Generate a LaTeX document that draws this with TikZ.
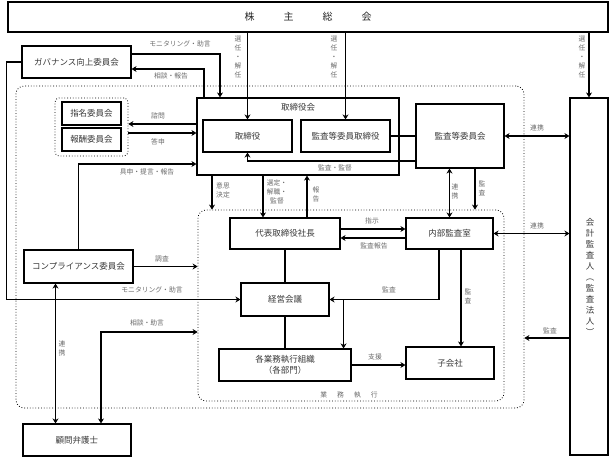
\documentclass[tikz,border=0pt]{standalone}
\usepackage{fontspec}
\setmainfont{Noto Sans CJK JP}
\usetikzlibrary{positioning}
\usetikzlibrary{arrows.meta}
\definecolor{lblgray}{gray}{0.42}
\definecolor{txtgray}{gray}{0.22}
\tikzset{box/.style={ % solid boxes
			draw,
			line width=1.1pt,
			inner sep=0pt,
			text=txtgray,
			font=\fontsize{8.5}{11}\selectfont},
		grp/.style={ % dotted groups
			draw,
			dotted,
			line width=0.8pt,
			rounded corners=8pt,
			inner sep=0pt},
		lab/.style={ % small grey labels
			text=lblgray,
			inner sep=0pt,
			align=center,
			font=\fontsize{6.8}{9}\selectfont},
		conn/.style={line width=1.4pt}}

\begin{document}
\begin{tikzpicture}[x=1pt, y=-1pt, >={Stealth[length=5pt,width=6pt]}]
			\useasboundingbox (0,0) rectangle (614,457);
			
			\node[grp, minimum width=508, minimum height=322] (outer) at (270,247) {};
			\node[grp, minimum width=306, minimum height=191] (exec) at (351,305.5) {};
			\node[grp, minimum width=73, minimum height=58, rounded corners=4pt] (cmt) at (91.5,127) {};
			
			\node[box, minimum width=600, minimum height=30, font=\fontsize{10}{12}\selectfont, text=black!85] (sh) at (308,17) {株\hspace{29pt}主\hspace{29pt}総\hspace{29pt}会};
			\node[box, minimum width=109, minimum height=32] (gov) at (76.5,62) {ガバナンス向上委員会};
			\node[box, minimum width=59, minimum height=23] (nom) at (91.5,113.5) {指名委員会};
			\node[box, minimum width=59, minimum height=23] (rem) at (91.5,139.5) {報酬委員会};
			\node[box, minimum width=202, minimum height=77] (bod) at (298,136.5) {};
			\node[text=txtgray, font=\fontsize{8.5}{11}\selectfont] (bodt) at (298,107) {取締役会};
			\node[box, minimum width=89, minimum height=32] (dir) at (247.5,136) {取締役};
			\node[box, minimum width=89, minimum height=32] (acd) at (345.5,136) {監査等委員取締役};
			\node[box, minimum width=88, minimum height=64] (ac) at (460,136) {監査等委員会};
			\node[box, minimum width=38, minimum height=357, align=center] (auditor) at (589,276.5) {};
			\node[text=txtgray, align=center, font=\fontsize{8.5}{11}\selectfont] (audt) at (590,277) {会\\計\\監\\査\\人\\︵\\監\\査\\法\\人\\︶};
			\node[box, minimum width=110, minimum height=31] (pres) at (285,233.5) {代表取締役社長};
			\node[box, minimum width=87, minimum height=31] (ia) at (449.5,233.5) {内部監査室};
			\node[box, minimum width=88, minimum height=33] (mgmt) at (285,299.5) {経営会議};
			\node[box, minimum width=132, minimum height=32, align=center] (ops) at (285,365) {各業務執行組織\\（各部門）};
			\node[box, minimum width=88, minimum height=32] (sub) at (450,363) {子会社};
			\node[box, minimum width=109, minimum height=33] (comp) at (78.5,266.5) {コンプライアンス委員会};
			\node[box, minimum width=108, minimum height=32] (law) at (77,440) {顧問弁護士};
			
			\coordinate (q1) at ([yshift=12.5pt]bod.west);
			\coordinate (q2) at ([yshift=3.5pt]bod.west);
			\coordinate (q3) at ([yshift=-25pt]ac.west);
			\coordinate (q4) at ([xshift=-86pt]bod.south);
			\coordinate (q5) at ([xshift=-35pt]bod.south);
			\coordinate (q6) at ([xshift=22pt]pres.north);
			\coordinate (q7) at ([xshift=15pt]ac.south);
			\coordinate (q8) at ([yshift=4.5pt]pres.east);
			\coordinate (q9) at ([yshift=-4.5pt]ia.west);
			\coordinate (q10) at ([xshift=14pt]mgmt.east);
			\coordinate (q11) at ([xshift=11.5pt]ia.south);
			\coordinate (q12) at ([xshift=-23pt]comp.south);
			\coordinate (q13) at ([yshift=-26.5pt]exec.west);
			\coordinate (q14) at ([yshift=-61.5pt]auditor.west);
			
			\draw[->, conn] (sh.south -| dir) -- (dir);
			\draw[->, conn] (sh.south -| acd) -- (acd);
			\draw[->, conn] (sh.south -| auditor) -- (auditor);
			\draw[->, conn] ([yshift=8pt]gov.east) -| ([xshift=-78pt]bod.north);
			\draw[->, conn] ([xshift=-94pt]bod.north) |- ([yshift=-7pt]gov.east);
			\draw[->, conn] (gov.west) -- ++(-15,0) |- (mgmt.west);
			\draw[->, conn] (q1) -- (q1 -| cmt.east);
			\draw[->, conn] (q2 -| cmt.east) -- (q2);
			\draw[->, conn] (comp.north) |- ([yshift=-27.5pt]bod.west);
			\draw[conn] (acd.east) -- (ac.west);
			\draw[->, conn] (q3) -| (dir.south);
			\draw[<->, conn] (ac.east) -- (ac.east -| auditor.west);
			\draw[<->, conn] (ia.east) -- (ia.east -| auditor.west);
			\draw[->, conn] (q14) -- (q14 -| outer.east);
			\draw[->, conn] (q4) -- (q4 |- exec.north);
			\draw[->, conn] (q5) -- (q5 |- pres.north);
			\draw[->, conn] (q6) -- (q6 |- bod.south);
			\draw[<->, conn] (ac.south -| ia) -- (ia.north);
			\draw[->, conn] (q7) -- (q7 |- exec.north);
			\draw[->, conn] (q8) -- (q8 -| ia.west);
			\draw[->, conn] (q9) -- (q9 -| pres.east);
			\draw[conn] (pres) -- (mgmt);
			\draw[conn] (mgmt) -- (ops);
			\draw[->, conn] ([xshift=-10.5pt]ia.south) |- (mgmt.east);
			\draw[->, conn] (q10) -- (q10 |- ops.north);
			\draw[->, conn] (q11) -- (q11 |- sub.north);
			\draw[->, conn] (ops.east) -- (ops.east -| sub.west);
			\draw[->, conn] (comp.east) -- (comp.east -| exec.west);
			\draw[<->, conn] (q12) -- (q12 |- law.north);
			\draw[<->, conn] ([xshift=24pt]law.north) |- (q13);
			
			\node[lab] (selA) at (238,57) {選\\任\\・\\解\\任};
			\node[lab] (selB) at (334,57) {選\\任\\・\\解\\任};
			\node[lab] (selC) at (582,57) {選\\任\\・\\解\\任};
			\node[lab] (monA) at (180,44) {モニタリング・助言};
			\node[lab] (repA) at (171,76) {相談・報告};
			\node[lab] (inq) at (158,116) {諮問};
			\node[lab] (ans) at (158,142) {答申};
			\node[lab] (adv) at (147,172) {具申・提言・報告};
			\node[lab] (sup) at (335,168) {監査・監督};
			\node[lab] (coopA) at (537,128) {連携};
			\node[lab] (dec) at (223,190) {意思\\決定};
			\node[lab] (appt) at (277,192) {選定・\\解職・\\監督};
			\node[lab] (repB) at (316,194) {報\\告};
			\node[lab] (coopB) at (455,191) {連\\携};
			\node[lab] (audA) at (482,188) {監\\査};
			\node[lab] (instr) at (372,221) {指示};
			\node[lab] (arep) at (374,246) {監査報告};
			\node[lab] (coopC) at (537,226) {連携};
			\node[lab] (audB) at (389,290) {監査};
			\node[lab] (audC) at (468,296) {監\\査};
			\node[lab] (audD) at (550,331) {監査};
			\node[lab] (supp) at (375,357) {支援};
			\node[lab] (biz) at (349,395) {業\hspace{10pt}務\hspace{10pt}執\hspace{10pt}行};
			\node[lab] (inv) at (162,259) {調査};
			\node[lab] (monB) at (152,290) {モニタリング・助言};
			\node[lab] (cons) at (147,323) {相談・助言};
			\node[lab] (coopD) at (62,348) {連\\携};
		\end{tikzpicture}
\end{document}
